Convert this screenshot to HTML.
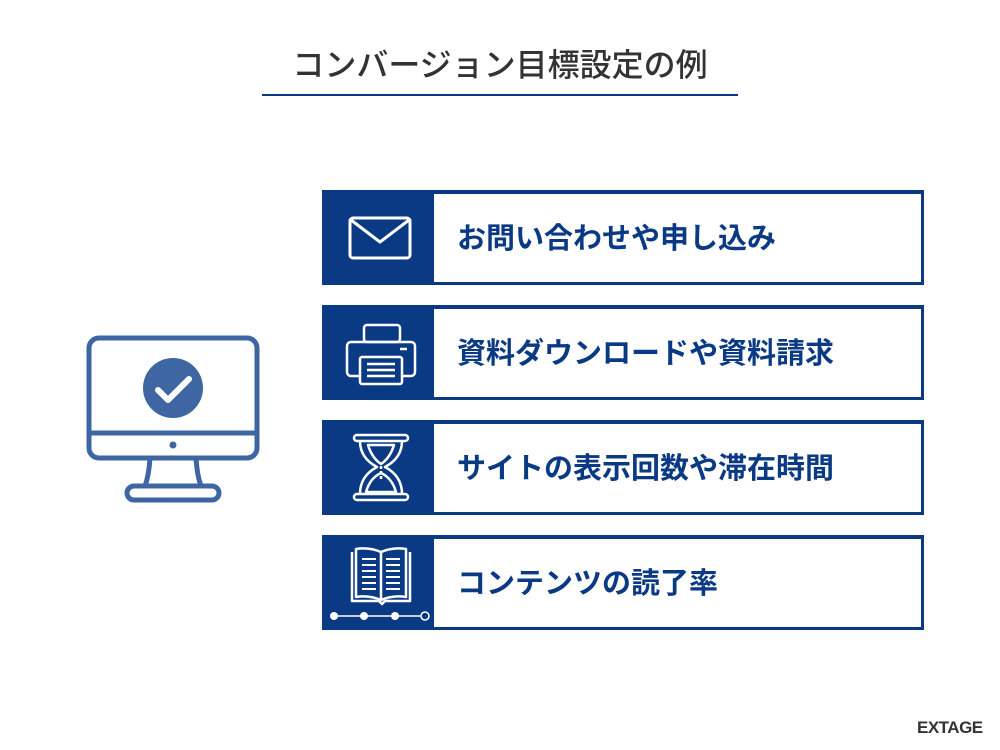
<!DOCTYPE html>
<html><head><meta charset="utf-8"><style>
body{margin:0;width:1000px;height:750px;background:#fff;position:relative;overflow:hidden;font-family:"Liberation Sans","Noto Sans CJK JP",sans-serif}
.t{position:absolute;left:0;width:1000px;top:45px;text-align:center;font-size:32px;font-weight:500;color:#333;line-height:40px}
.ln{position:absolute;left:262px;top:94px;width:476px;height:2px;background:#0b3a85}
.row{position:absolute;left:322px;width:602px;height:95px;background:#0b3a85}
.row .w{position:absolute;left:112px;top:4px;right:3px;bottom:3px;background:#fff}
.row .tx{position:absolute;left:135px;top:2px;height:95px;line-height:95px;font-size:29px;font-weight:bold;color:#0b3a85}
.row svg{position:absolute;left:0;top:0}
.logo{position:absolute;left:917px;top:718px;font-size:17px;font-weight:bold;color:#333;letter-spacing:-0.5px}
</style></head><body>
<div class="t">コンバージョン目標設定の例</div>
<div class="ln"></div>
<svg style="position:absolute;left:0;top:0" width="300" height="520">
<g fill="none" stroke="#3d66a3" stroke-width="5" stroke-linejoin="round">
<rect x="89" y="338" width="168" height="120" rx="10"/>
<line x1="89" y1="433" x2="257" y2="433"/>
<path d="M150 458 Q149 475 145 486 M196 458 Q197 475 201 486"/>
<rect x="127" y="486" width="92" height="14" rx="7"/>
</g>
<circle cx="173" cy="445" r="3.5" fill="#3d66a3"/>
<circle cx="173" cy="388" r="30" fill="#3d66a3"/>
<path d="M158 390 L168 400 L189 379" fill="none" stroke="#fff" stroke-width="6" stroke-linecap="round" stroke-linejoin="round"/>
</svg>
<div class="row" style="top:190px"><div class="w"></div><div class="tx">お問い合わせや申し込み</div>
<svg width="112" height="95"><g fill="none" stroke="#fff" stroke-width="3" stroke-linejoin="round"><rect x="28" y="28" width="60" height="40" rx="3"/><path d="M29 30 L58 52 L87 30"/></g></svg></div>
<div class="row" style="top:305px"><div class="w"></div><div class="tx">資料ダウンロードや資料請求</div>
<svg width="112" height="95"><g fill="none" stroke="#fff" stroke-width="2.5" stroke-linejoin="round"><rect x="42" y="20" width="36" height="17" rx="3"/><rect x="25" y="37" width="68" height="34" rx="4"/><rect x="38" y="52" width="42" height="27" rx="2" fill="#0b3a85"/><line x1="45" y1="59" x2="73" y2="59"/><line x1="45" y1="65" x2="73" y2="65"/><line x1="45" y1="71" x2="73" y2="71"/><line x1="78" y1="44" x2="85" y2="44"/></g></svg></div>
<div class="row" style="top:420px"><div class="w"></div><div class="tx">サイトの表示回数や滞在時間</div>
<svg width="112" height="95"><g fill="none" stroke="#fff" stroke-width="2.5" stroke-linejoin="round"><rect x="32" y="15" width="54" height="6" rx="3"/><rect x="32" y="74" width="54" height="6" rx="3"/><path d="M38 21 Q38 38 55 47 Q38 56 38 74 M80 21 Q80 38 63 47 Q80 56 80 74"/><path d="M46 25 L72 25 Q68 38 59 44 Q50 38 46 25Z M44 72 Q48 58 59 53 Q70 58 74 72Z"/><line x1="59" y1="46" x2="59" y2="60" stroke-dasharray="3 2"/></g></svg></div>
<div class="row" style="top:535px"><div class="w"></div><div class="tx">コンテンツの読了率</div>
<svg width="112" height="95"><g fill="none" stroke="#fff" stroke-width="2.5" stroke-linejoin="round"><path d="M30 17 L30 66 L57 66 L60 69 L63 66 L88 66 L88 17"/><path d="M34 14 Q47 12 59 17 Q71 12 84 14 L84 62 Q71 60 59 65 Q47 60 34 62Z"/><line x1="59" y1="17" x2="59" y2="64"/><g stroke-width="2"><line x1="40" y1="24" x2="54" y2="24"/><line x1="40" y1="30" x2="54" y2="30"/><line x1="40" y1="36" x2="54" y2="36"/><line x1="40" y1="42" x2="54" y2="42"/><line x1="40" y1="48" x2="54" y2="48"/><line x1="40" y1="54" x2="54" y2="54"/><line x1="64" y1="24" x2="78" y2="24"/><line x1="64" y1="30" x2="78" y2="30"/><line x1="64" y1="36" x2="78" y2="36"/><line x1="64" y1="42" x2="78" y2="42"/><line x1="64" y1="48" x2="78" y2="48"/><line x1="64" y1="54" x2="78" y2="54"/></g><line x1="12" y1="81" x2="100" y2="81" stroke-width="1.5"/></g>
<g fill="#fff"><circle cx="12" cy="81" r="4"/><circle cx="42" cy="81" r="4"/><circle cx="73" cy="81" r="4"/></g><circle cx="103" cy="81" r="4" fill="#0b3a85" stroke="#fff" stroke-width="1.5"/></svg></div>
<div class="logo">EXTAGE</div>
</body></html>
